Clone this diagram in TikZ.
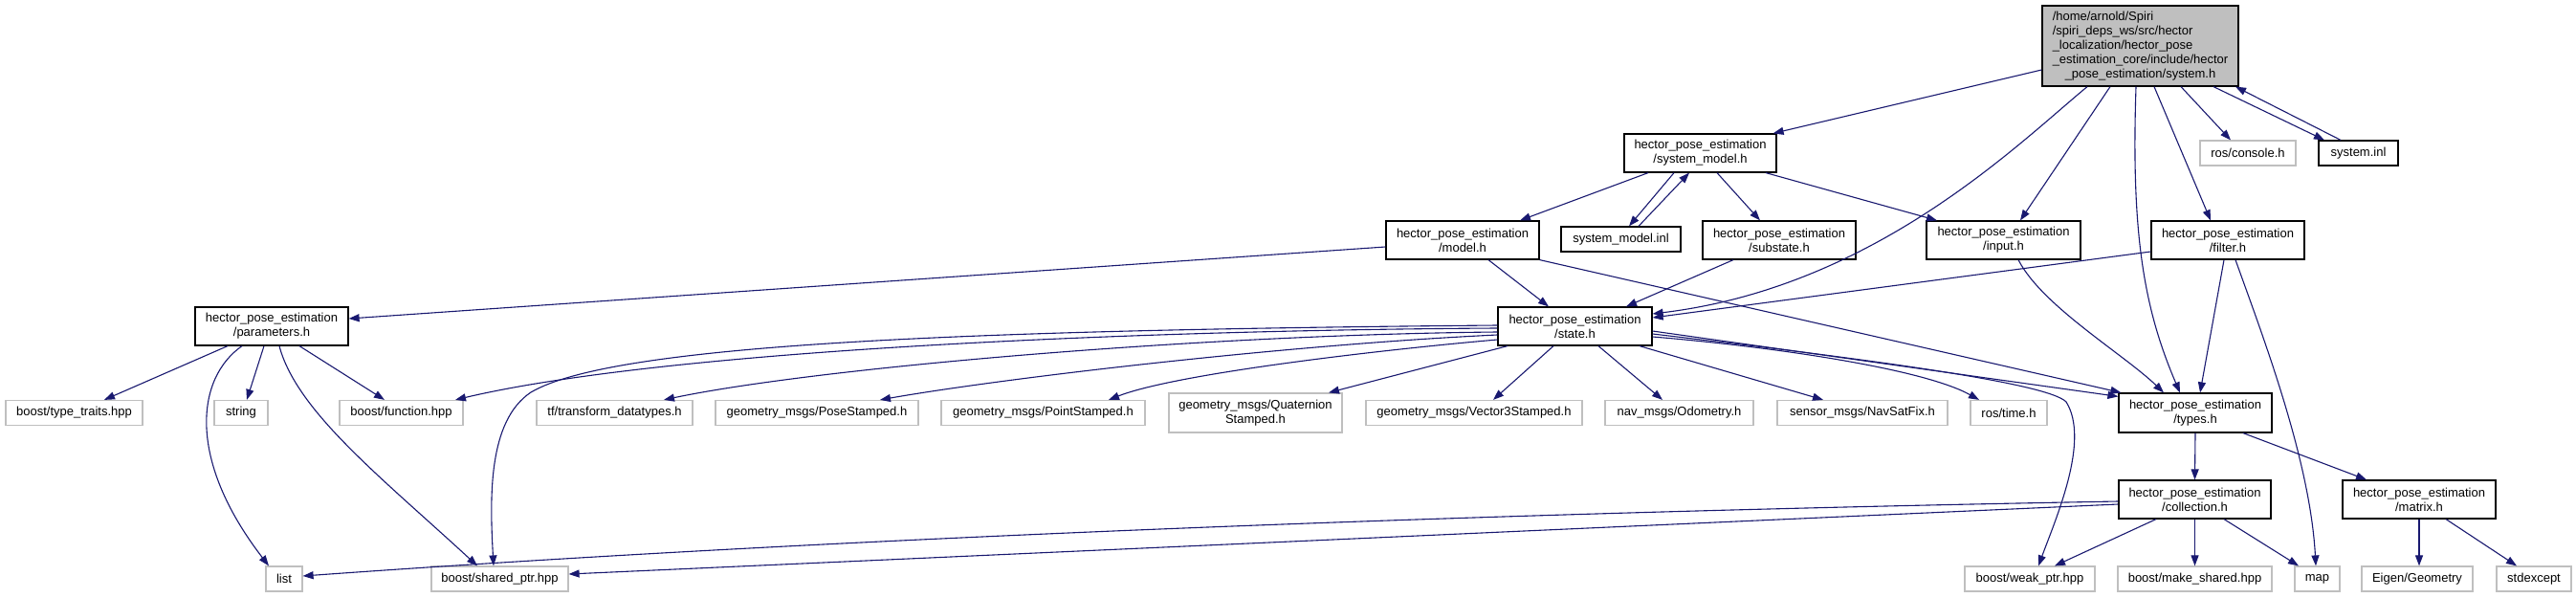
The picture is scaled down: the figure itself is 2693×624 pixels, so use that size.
\documentclass[tikz,border=0pt]{standalone}
\usepackage{fontspec}
\setmainfont{Liberation Sans}
\usepackage{xcolor}
\definecolor{edgeblue}{RGB}{25,25,112}
\definecolor{extgray}{RGB}{191,191,191}
\definecolor{rootgray}{RGB}{191,191,191}
\usepackage{tikz}
\usetikzlibrary{arrows.meta}
\tikzset{
  filebox/.style={draw=black, fill=white, line width=1.2pt, inner sep=0pt, align=center, font=\fontsize{13}{15}\selectfont},
  extbox/.style={filebox, draw=extgray},
  rootbox/.style={filebox, fill=rootgray},
  dep/.style={draw=edgeblue, line width=1.1pt, -{Triangle[length=11pt,width=8pt]}},
}
\begin{document}
\begin{tikzpicture}[x=1pt,y=-1pt]
      \fill[white] (0,0) rectangle (2693,624);
      \useasboundingbox (0,0) rectangle (2693,624);
      % Root file
      \node[rootbox, minimum width=205, minimum height=84] (systemh) at (2237.5,48) {\begin{tabular}{@{}l@{}}/home/arnold/Spiri\\/spiri\_deps\_ws/src/hector\\\_localization/hector\_pose\\\_estimation\_core/include/hector\\\multicolumn{1}{@{}c@{}}{\_pose\_estimation/system.h}\end{tabular}};
      % First level
      \node[filebox, minimum width=159, minimum height=40] (sysmodel) at (1777.5,160) {hector\_pose\_estimation\\/system\_model.h};
      \node[extbox, minimum width=100, minimum height=26] (console) at (2350,160) {ros/console.h};
      \node[filebox, minimum width=83, minimum height=26] (sysinl) at (2465.5,160) {system.inl};
      % Second level
      \node[filebox, minimum width=160, minimum height=40] (model) at (1529,251) {hector\_pose\_estimation\\/model.h};
      \node[filebox, minimum width=125, minimum height=26] (sysmodelinl) at (1694.5,250) {system\_model.inl};
      \node[filebox, minimum width=160, minimum height=40] (substate) at (1860,251) {hector\_pose\_estimation\\/substate.h};
      \node[filebox, minimum width=161, minimum height=40] (input) at (2094.5,251) {hector\_pose\_estimation\\/input.h};
      \node[filebox, minimum width=160, minimum height=40] (filter) at (2329,251) {hector\_pose\_estimation\\/filter.h};
      % Third level
      \node[filebox, minimum width=160, minimum height=40] (parameters) at (284,341) {hector\_pose\_estimation\\/parameters.h};
      \node[filebox, minimum width=161, minimum height=40] (state) at (1646.5,341) {hector\_pose\_estimation\\/state.h};
      % Fourth level
      \node[extbox, minimum width=143, minimum height=26] (typetraits) at (77.5,431.5) {boost/type\_traits.hpp};
      \node[extbox, minimum width=56, minimum height=26] (string) at (252,431.5) {string};
      \node[extbox, minimum width=129, minimum height=26] (function) at (419.5,431.5) {boost/function.hpp};
      \node[extbox, minimum width=163, minimum height=26] (tfdata) at (642.5,431.5) {tf/transform\_datatypes.h};
      \node[extbox, minimum width=212, minimum height=26] (pose) at (854,431.5) {geometry\_msgs/PoseStamped.h};
      \node[extbox, minimum width=213, minimum height=26] (point) at (1090.5,431.5) {geometry\_msgs/PointStamped.h};
      \node[extbox, minimum width=181, minimum height=41] (quat) at (1312.5,431.5) {geometry\_msgs/Quaternion\\Stamped.h};
      \node[extbox, minimum width=226, minimum height=26] (vec3) at (1541,431.5) {geometry\_msgs/Vector3Stamped.h};
      \node[extbox, minimum width=155, minimum height=26] (odom) at (1755.5,431.5) {nav\_msgs/Odometry.h};
      \node[extbox, minimum width=178, minimum height=26] (navsat) at (1947,431.5) {sensor\_msgs/NavSatFix.h};
      \node[extbox, minimum width=80, minimum height=26] (rostime) at (2100,431.5) {ros/time.h};
      \node[filebox, minimum width=160, minimum height=41] (types) at (2295,431.5) {hector\_pose\_estimation\\/types.h};
      % Fifth level
      \node[filebox, minimum width=159, minimum height=40] (collection) at (2294.5,522) {hector\_pose\_estimation\\/collection.h};
      \node[filebox, minimum width=160, minimum height=40] (matrix) at (2529,522) {hector\_pose\_estimation\\/matrix.h};
      % Bottom leaves
      \node[extbox, minimum width=38, minimum height=26] (list) at (297,605) {list};
      \node[extbox, minimum width=143, minimum height=26] (sharedptr) at (522.5,605) {boost/shared\_ptr.hpp};
      \node[extbox, minimum width=136, minimum height=26] (weakptr) at (2122,605) {boost/weak\_ptr.hpp};
      \node[extbox, minimum width=161, minimum height=26] (makeshared) at (2294.5,605) {boost/make\_shared.hpp};
      \node[extbox, minimum width=47, minimum height=26] (map) at (2422.5,605) {map};
      \node[extbox, minimum width=116, minimum height=26] (eigen) at (2527,605) {Eigen/Geometry};
      \node[extbox, minimum width=78, minimum height=26] (stdexcept) at (2649,605) {stdexcept};
      % Edges from the root
      \draw[dep] ([yshift=-25]systemh.west) -- ([xshift=-4]sysmodel.north east);
      \draw[dep] ([xshift=-55.5]systemh.south) .. controls (2110,150) and (1960,300) .. ([yshift=13]state.east);
      \draw[dep] ([xshift=-31.5]systemh.south) -- ([xshift=17.5]input.north);
      \draw[dep] ([xshift=-4.5]systemh.south) .. controls (2228,240) and (2240,320) .. ([xshift=-16]types.north);
      \draw[dep] ([xshift=14.5]systemh.south) -- ([xshift=-18]filter.north);
      \draw[dep] ([xshift=42.5]systemh.south) -- ([xshift=-18]console.north);
      \draw[dep] ([xshift=76.5]systemh.south) -- ([xshift=-35.5]sysinl.north);
      \draw[dep] ([xshift=-18.5]sysinl.north) -- ([xshift=99.5]systemh.south);
      % Edges from system_model.h
      \draw[dep] ([xshift=-54.5]sysmodel.south) -- ([xshift=60]model.north);
      \draw[dep] ([xshift=-27.5]sysmodel.south) -- ([xshift=8.5]sysmodelinl.north);
      \draw[dep] ([xshift=18.5]sysmodelinl.north) -- ([xshift=-11.5]sysmodel.south);
      \draw[dep] ([xshift=17.5]sysmodel.south) -- ([xshift=-20]substate.north);
      \draw[dep] ([xshift=68.5]sysmodel.south) -- ([xshift=-69.5]input.north);
      % Edges from the second level
      \draw[dep] ([yshift=-7]model.west) -- ([yshift=8]parameters.east);
      \draw[dep] ([xshift=27]model.south) -- ([xshift=-27.5]state.north);
      \draw[dep] (model.south east) -- ([xshift=3]types.north west);
      \draw[dep] ([xshift=-48]substate.south) -- ([xshift=53.5]state.north);
      \draw[dep] ([xshift=15.5]input.south) .. controls (2135,320) and (2220,370) .. ([xshift=-33]types.north);
      \draw[dep] ([yshift=-12]filter.west) -- ([yshift=9]state.east);
      \draw[dep] ([xshift=-4]filter.south) -- ([xshift=5]types.north);
      \draw[dep] ([xshift=8]filter.south) .. controls (2365,350) and (2415,480) .. ([xshift=-1.5]map.north);
      % Edges from parameters.h
      \draw[dep] ([xshift=-46]parameters.south) -- ([xshift=31.5]typetraits.north);
      \draw[dep] ([xshift=-31]parameters.south) .. controls (205,395) and (195,480) .. ([xshift=-16]list.north);
      \draw[dep] ([xshift=-8]parameters.south) -- ([xshift=6]string.north);
      \draw[dep] ([xshift=8]parameters.south) .. controls (310,430) and (400,500) .. ([xshift=-23.5]sharedptr.north);
      \draw[dep] ([xshift=29]parameters.south) -- ([xshift=-17.5]function.north);
      % Edges from state.h
      \draw[dep] ([yshift=1]state.west) .. controls (1000,345) and (640,360) .. (555,410) .. controls (510,440) and (512,520) .. ([xshift=-6.5]sharedptr.north);
      \draw[dep] ([yshift=-2]state.west) .. controls (1200,345) and (700,365) .. ([xshift=56.5]function.north);
      \draw[dep] ([yshift=-6]state.west) .. controls (1250,350) and (850,385) .. ([xshift=51.5]tfdata.north);
      \draw[dep] ([yshift=-9]state.west) .. controls (1350,360) and (1050,395) .. ([xshift=66]pose.north);
      \draw[dep] ([yshift=-14]state.west) .. controls (1450,365) and (1230,390) .. ([xshift=68.5]point.north);
      \draw[dep] ([xshift=-70.5]state.south) -- ([xshift=76.5]quat.north);
      \draw[dep] ([xshift=-22.5]state.south) -- ([xshift=20]vec3.north);
      \draw[dep] ([xshift=24.5]state.south) -- ([xshift=-17.5]odom.north);
      \draw[dep] ([xshift=67.5]state.south) -- ([xshift=-41]navsat.north);
      \draw[dep] ([yshift=-11]state.east) .. controls (1850,362) and (2010,385) .. ([xshift=-31]rostime.north);
      \draw[dep] ([yshift=-5]state.east) -- ([yshift=-4]types.north west);
      \draw[dep] ([yshift=-8]state.east) .. controls (1950,375) and (2140,400) .. (2160,420) .. controls (2185,460) and (2150,540) .. ([xshift=9]weakptr.north);
      % Edges from types.h and below
      \draw[dep] (types.south) -- (collection.north);
      \draw[dep] ([xshift=50]types.south) -- ([xshift=-55]matrix.north);
      \draw[dep] ([yshift=-2]collection.west) .. controls (1600,535) and (900,560) .. ([yshift=3]list.east);
      \draw[dep] ([yshift=-5]collection.west) -- ([yshift=5]sharedptr.east);
      \draw[dep] ([xshift=-40.5]collection.south) -- ([xshift=26]weakptr.north);
      \draw[dep] (collection.south) -- (makeshared.north);
      \draw[dep] ([xshift=30.5]collection.south) -- ([xshift=-19.5]map.north);
      \draw[dep] (matrix.south) -- ([xshift=2]eigen.north);
      \draw[dep] ([xshift=28]matrix.south) -- ([xshift=-18]stdexcept.north);
    \end{tikzpicture}
\end{document}
